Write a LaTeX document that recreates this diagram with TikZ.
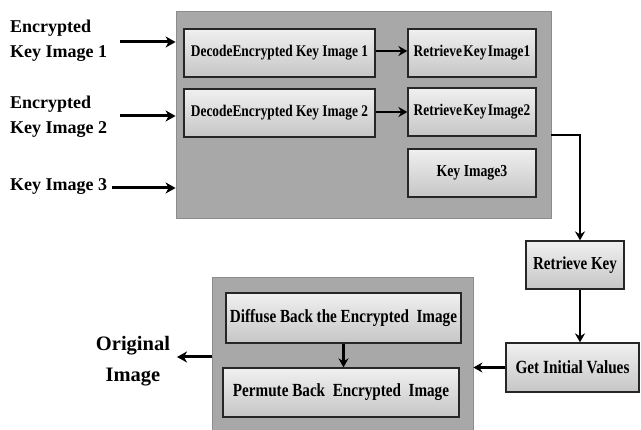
\documentclass[tikz,border=0pt]{standalone}
\usepackage{fontspec}
\setmainfont{Liberation Serif}
\newfontfamily\cnd[FakeStretch=0.82]{Liberation Serif}
\usetikzlibrary{arrows.meta}
\definecolor{boxgray}{HTML}{A8A8A8}
\definecolor{boxedge}{HTML}{8C8C8C}
\definecolor{procTop}{HTML}{F0F0F0}
\definecolor{procBot}{HTML}{C6C6C6}
\newcommand{\fs}[1]{\cnd\bfseries\fontsize{#1}{#1}\selectfont}
\begin{document}
\begin{tikzpicture}[x=1pt,y=-1pt,
  cont/.style={draw=boxedge, fill=boxgray, line width=0.8pt, inner sep=0pt},
  proc/.style={draw=black!85, line width=1.3pt, top color=procTop, bottom color=procBot, inner sep=0pt, align=center},
  lab/.style={font=\bfseries\fontsize{18}{25}\selectfont, align=left, inner sep=0pt},
  arr/.style={line width=3pt, -{Stealth[length=10pt,width=11pt,inset=3pt]}},
  arrs/.style={line width=2.6pt, -{Stealth[length=9pt,width=10pt,inset=3pt]}},
]
\useasboundingbox (0,0) rectangle (641,430);
\fill[white] (0,0) rectangle (641,430);

% containers
\node[cont, minimum width=375pt, minimum height=207pt] (top) at (363.5,114.5) {};
\node[cont, minimum width=261pt, minimum height=155pt] (bot) at (342.5,354.5) {};

% process boxes
\node[proc, minimum width=191pt, minimum height=48pt, font=\fs{16.3}] (dec1) at (279.5,53) {DecodeEncrypted Key Image 1};
\node[proc, minimum width=191pt, minimum height=48pt, font=\fs{16.3}] (dec2) at (279.5,113) {DecodeEncrypted Key Image 2};
\node[proc, minimum width=128pt, minimum height=48pt, font=\fs{16.3}] (ret1) at (472,53) {Retrieve\kern1.5pt Key\kern1.5pt Image1};
\node[proc, minimum width=128pt, minimum height=48pt, font=\fs{16.3}] (ret2) at (472,112) {Retrieve\kern1.5pt Key\kern1.5pt Image2};
\node[proc, minimum width=128pt, minimum height=48pt, font=\fs{16.8}] (key3) at (472,173) {Key Image3};
\node[proc, minimum width=98pt, minimum height=48pt, font=\fs{18.3}] (retkey) at (575,265) {Retrieve Key};
\node[proc, minimum width=133pt, minimum height=49pt, font=\fs{18.6}] (init) at (572.5,367.5) {Get Initial Values};
\node[proc, minimum width=235pt, minimum height=50pt, font=\fs{18.5}] (diff) at (343.5,318) {Diffuse Back the Encrypted\ \ Image};
\node[proc, minimum width=236pt, minimum height=49pt, font=\fs{18.5}] (perm) at (341,392.5) {Permute Back\ \ Encrypted\ \ Image};

% labels
\node[lab, anchor=west] (in1) at (10,41) {Encrypted\\Key Image 1};
\node[lab, anchor=west] (in2) at (10,117) {Encrypted\\Key Image 2};
\node[lab, anchor=west] (in3) at (10,187) {Key Image 3};
\node[font=\bfseries\fontsize{20.5}{31}\selectfont, align=center, inner sep=0pt] (orig) at (133,361) {Original\\Image};

% named coordinates
\coordinate (a1) at (120,42);
\coordinate (a2) at (120,116);
\coordinate (a3) at (112,188);
\coordinate (o1) at (177,357);
\coordinate (c1) at (0,51);
\coordinate (c2) at (0,112);
\coordinate (c3) at (0,135);
\coordinate (c4) at (580,0);

% connectors
\draw[arr] (a1) -- (a1 -| top.west);
\draw[arr] (a2) -- (a2 -| top.west);
\draw[arr] (a3) -- (a3 -| top.west);
\draw[arrs] (c1 -| dec1.east) -- (c1 -| ret1.west);
\draw[arrs] (c2 -| dec2.east) -- (c2 -| ret2.west);
\draw[arrs] (c3 -| top.east) -| (c4 |- retkey.north);
\draw[arrs] (c4 |- retkey.south) -- (c4 |- init.north);
\draw[arrs] (init.west) -- (init.west -| bot.east);
\draw[arrs] (diff.south) -- (diff.south |- perm.north);
\draw[arr] (o1 -| bot.west) -- (o1);
\end{tikzpicture}
\end{document}
